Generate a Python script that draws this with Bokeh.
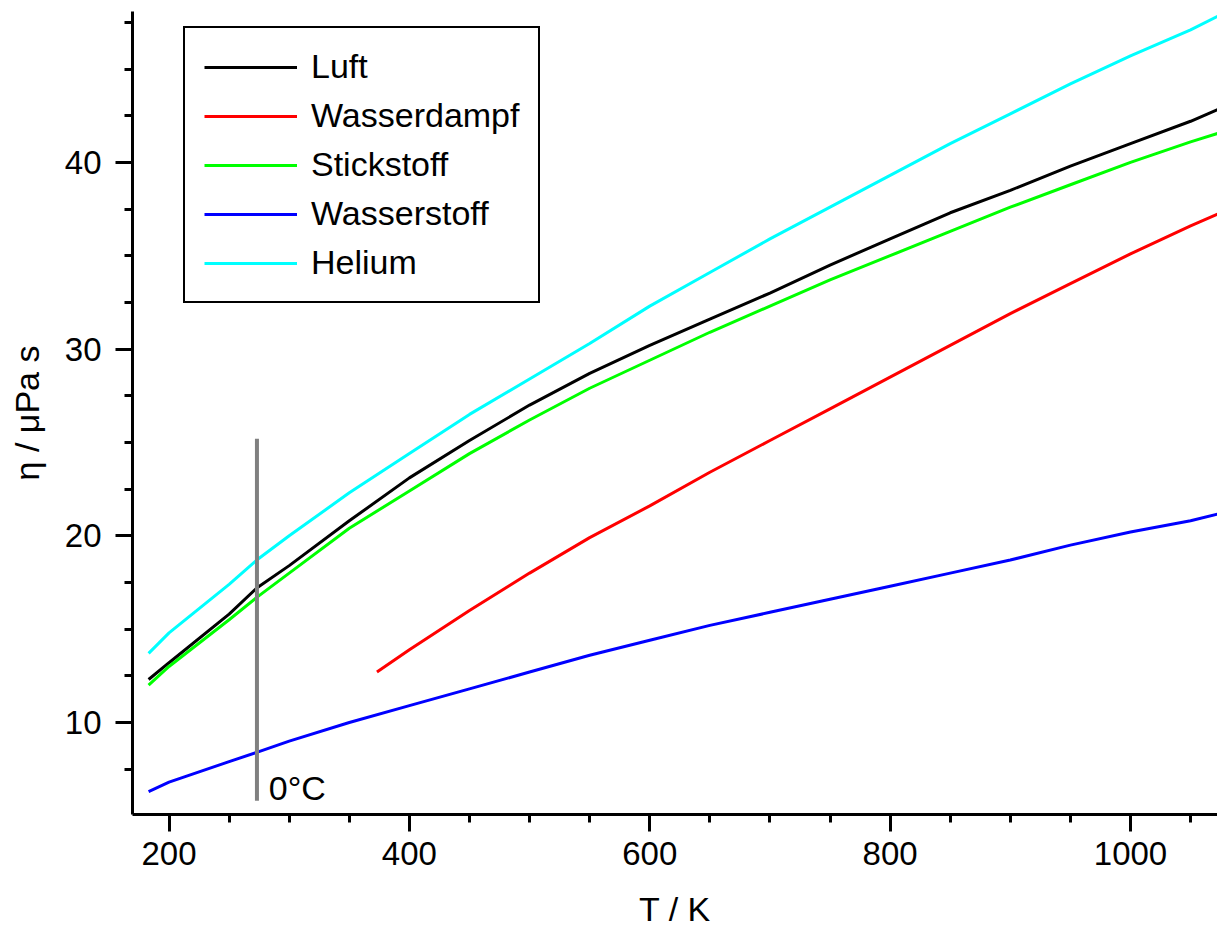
from bokeh.plotting import figure
from bokeh.models import Range1d, SingleIntervalTicker, Legend, LegendItem
from bokeh.core.properties import value
from bokeh.embed import file_html
from bokeh.resources import INLINE

# ---- data (temperature in K, viscosity in µPa s) ----
T_gas = [183, 200, 250, 273, 300, 350, 400, 450, 500, 550, 600, 650, 700,
         750, 800, 850, 900, 950, 1000, 1050, 1075]
luft = [12.3, 13.2, 15.8, 17.2, 18.4, 20.8, 23.1, 25.1, 27.0, 28.7, 30.2,
        31.6, 33.0, 34.5, 35.9, 37.3, 38.5, 39.8, 41.0, 42.2, 42.9]
stickstoff = [12.0, 13.0, 15.5, 16.7, 18.0, 20.4, 22.4, 24.4, 26.2, 27.9, 29.4,
              30.9, 32.3, 33.7, 35.0, 36.3, 37.6, 38.8, 40.0, 41.1, 41.6]
helium = [13.7, 14.8, 17.4, 18.7, 20.0, 22.3, 24.4, 26.5, 28.4, 30.3, 32.3,
          34.1, 35.9, 37.6, 39.3, 41.0, 42.6, 44.2, 45.7, 47.1, 47.9]
wasserstoff = [6.3, 6.8, 7.9, 8.4, 9.0, 10.0, 10.9, 11.8, 12.7, 13.6, 14.4,
               15.2, 15.9, 16.6, 17.3, 18.0, 18.7, 19.5, 20.2, 20.8, 21.2]
T_steam = [373, 400, 450, 500, 550, 600, 650, 700, 750, 800, 850, 900, 950,
           1000, 1050, 1075]
wasserdampf = [12.7, 13.9, 16.0, 18.0, 19.9, 21.6, 23.4, 25.1, 26.8, 28.5,
               30.2, 31.9, 33.5, 35.1, 36.6, 37.3]
zero_c_T = [273.15, 273.15]
zero_c_eta = [5.8, 25.2]
zero_c_label = "0°C"

series = [
    ("Luft", T_gas, luft, "#000000"),
    ("Wasserdampf", T_steam, wasserdampf, "#ff0000"),
    ("Stickstoff", T_gas, stickstoff, "#00ff00"),
    ("Wasserstoff", T_gas, wasserstoff, "#0000ff"),
    ("Helium", T_gas, helium, "#00ffff"),
]

FONT = "Liberation Sans"

p = figure(width=1217, height=930, output_backend="svg", toolbar_location=None,
           x_range=Range1d(169.6, 1072.4), y_range=Range1d(5.07, 48.08),
           min_border_left=132, min_border_right=0, min_border_top=11,
           min_border_bottom=116)
p.outline_line_color = None
p.background_fill_color = "white"
p.border_fill_color = "white"
p.xgrid.visible = False
p.ygrid.visible = False

p.xaxis.ticker = SingleIntervalTicker(interval=200, num_minor_ticks=4)
p.yaxis.ticker = SingleIntervalTicker(interval=10, num_minor_ticks=4)
for ax in (p.xaxis, p.yaxis):
    ax.axis_line_width = 3
    ax.axis_line_color = "black"
    ax.major_tick_line_width = 3
    ax.minor_tick_line_width = 3
    ax.major_tick_line_color = "black"
    ax.minor_tick_line_color = "black"
    ax.major_tick_out = 17
    ax.major_tick_in = 0
    ax.minor_tick_out = 8
    ax.minor_tick_in = 0
    ax.major_label_text_font = FONT
    ax.major_label_text_font_size = "33px"
    ax.major_label_text_color = "black"
    ax.axis_label_text_font = FONT
    ax.axis_label_text_font_size = "34px"
    ax.axis_label_text_font_style = "normal"
    ax.axis_label_text_color = "black"
p.xaxis.axis_label = "T / K"
p.yaxis.axis_label = "η / μPa s"
p.xaxis.major_label_standoff = 10
p.yaxis.major_label_standoff = 14
p.xaxis.axis_label_standoff = 22
p.yaxis.axis_label_standoff = 16

items = []
for name, xs, ys, col in series:
    r = p.line(xs, ys, line_color=col, line_width=3)
    items.append(LegendItem(label=name, renderers=[r]))

p.line(zero_c_T, zero_c_eta, line_color="#808080", line_width=4)
p.text(x=[283], y=[6.47], text=[zero_c_label], text_font=value(FONT),
       text_font_size="34px", text_color="black", text_baseline="alphabetic")

legend = Legend(items=items, location=(51, 511))
legend.label_text_font = FONT
legend.label_text_font_size = "34px"
legend.label_text_color = "black"
legend.glyph_width = 93
legend.glyph_height = 30
legend.label_height = 30
legend.label_standoff = 14
legend.spacing = 10
legend.padding = 19
legend.margin = 0
legend.border_line_color = "black"
legend.border_line_alpha = 1.0
legend.border_line_width = 2
legend.background_fill_color = "white"
legend.background_fill_alpha = 1
p.add_layout(legend)

open("out.html", "w").write(file_html(p, INLINE))
